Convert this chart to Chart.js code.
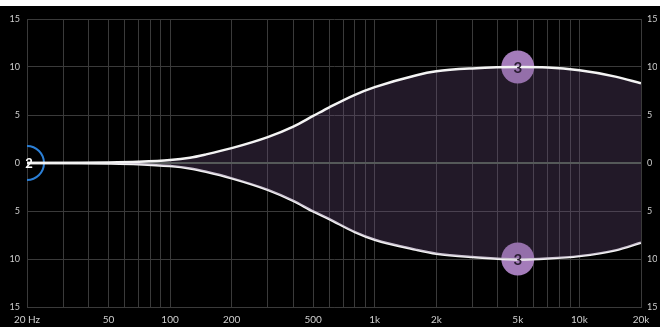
<!DOCTYPE html>
<html>
<head>
<meta charset="utf-8">
<script src="https://cdn.jsdelivr.net/npm/chart.js@4/dist/chart.umd.min.js"></script>
<style>
  html, body { margin: 0; padding: 0; background: #fff; }
  #wrap { width: 660px; height: 327px; }
</style>
</head>
<body>
<div id="wrap"><canvas id="eq" width="660" height="327"></canvas></div>
<script>
// ==============================
// Datos
// ==============================
const freqs = [20, 50, 70, 100, 125, 150, 200, 300, 400, 500, 600, 800, 1000, 1600, 2000, 3000, 5000, 7000, 10000, 15000, 20000];
const gainUpper = [0, 0.05, 0.12, 0.3, 0.55, 0.9, 1.55, 2.7, 3.8, 4.9, 5.8, 7.1, 7.9, 9.15, 9.55, 9.85, 10.0, 9.95, 9.65, 9.0, 8.3];
const gainLower = [0, -0.05, -0.12, -0.32, -0.57, -0.92, -1.6, -2.8, -3.95, -5.05, -5.85, -7.2, -8.0, -9.05, -9.45, -9.8, -10.05, -9.95, -9.7, -9.1, -8.3];

const gridFreqs = [20, 30, 40, 50, 60, 70, 80, 90, 100, 200, 300, 400, 500, 600, 700, 800, 900,
                   1000, 2000, 3000, 4000, 5000, 6000, 7000, 8000, 9000, 10000, 20000];
const freqLabels = { 20: '20 Hz', 50: '50', 100: '100', 200: '200', 500: '500', 1000: '1k', 2000: '2k', 5000: '5k', 10000: '10k', 20000: '20k' };

const bandFreq = [5000, 5000];
const bandGain = [10, -10];
const bandNames = ['3', '3'];
const nodeFreq = [20];
const nodeGain = [0];
const nodeNames = ['2'];

const FONT = 'Lato, "Open Sans", sans-serif';
const gridCol = '#3a3a3a';

const pts = (xs, ys) => xs.map((x, i) => ({ x, y: ys[i] }));

// ==============================
// Plugins
// ==============================
const fondo = {
  id: 'fondo',
  beforeDraw(chart) {
    const c = chart.ctx;
    c.save();
    c.fillStyle = '#000';
    c.fillRect(0, 6, chart.width, chart.height - 6);
    c.restore();
  }
};

const etiquetas = {
  id: 'etiquetas',
  afterDatasetsDraw(chart) {
    const c = chart.ctx;
    const xs = chart.scales.x, ys = chart.scales.y;
    c.save();
    c.textAlign = 'center';
    c.textBaseline = 'middle';
    c.font = `bold 15px ${FONT}`;
    c.fillStyle = '#2a1d33';
    bandFreq.forEach((f, i) => {
      c.fillText(bandNames[i], xs.getPixelForValue(f), ys.getPixelForValue(bandGain[i]) + 1);
    });
    c.fillStyle = '#fff';
    c.font = `bold 13px ${FONT}`;
    nodeFreq.forEach((f, i) => {
      c.fillText(nodeNames[i], xs.getPixelForValue(f) + 2, ys.getPixelForValue(nodeGain[i]) + 1);
    });
    c.restore();
  }
};

// ==============================
// Gráfica
// ==============================
new Chart(document.getElementById('eq'), {
  type: 'line',
  data: {
    datasets: [
      {
        data: pts(freqs, gainUpper),
        borderColor: '#f4f4f4', borderWidth: 2.5,
        backgroundColor: 'rgba(112, 82, 132, 0.3)',
        fill: '+1', pointRadius: 0, cubicInterpolationMode: 'monotone'
      },
      {
        data: pts(freqs, gainLower),
        borderColor: '#f4f4f4', borderWidth: 2.5,
        fill: false, pointRadius: 0, cubicInterpolationMode: 'monotone'
      },
      {
        data: pts(bandFreq, bandGain),
        showLine: false, pointRadius: 16.5, pointHoverRadius: 16.5,
        pointBackgroundColor: '#a47cba', pointBorderWidth: 0
      },
      {
        data: pts(nodeFreq, nodeGain),
        showLine: false, pointRadius: 17, pointHoverRadius: 17,
        pointBackgroundColor: 'rgba(0,0,0,0)', pointBorderColor: '#2b7fd6', pointBorderWidth: 2,
        clip: 0
      }
    ]
  },
  options: {
    responsive: false,
    animation: false,
    events: [],
    layout: { padding: { top: 16, left: 0, right: 0, bottom: 0 } },
    plugins: { legend: { display: false }, tooltip: { enabled: false } },
    scales: {
      x: {
        type: 'logarithmic', min: 20, max: 20000,
        afterBuildTicks: (s) => { s.ticks = gridFreqs.map(v => ({ value: v })); },
        afterFit: (s) => { s.height = 20; },
        grid: { color: gridCol, drawTicks: false },
        border: { color: gridCol },
        ticks: {
          autoSkip: false, maxRotation: 0, padding: 7,
          color: '#cfcfcf', font: { family: FONT, size: 10 },
          callback: (v) => freqLabels[v] || ''
        }
      },
      y: {
        position: 'left', min: -15, max: 15,
        afterFit: (s) => { s.width = 27; },
        grid: {
          drawTicks: false,
          color: (ctx) => ctx.tick && ctx.tick.value === 0 ? '#4a5c47' : gridCol,
          lineWidth: (ctx) => ctx.tick && ctx.tick.value === 0 ? 2 : 1
        },
        border: { color: gridCol },
        ticks: {
          stepSize: 5, padding: 7,
          color: '#cfcfcf', font: { family: FONT, size: 9 },
          callback: (v) => String(Math.abs(v))
        }
      },
      y2: {
        position: 'right', min: -15, max: 15,
        afterFit: (s) => { s.width = 16; },
        grid: { display: false, drawTicks: false },
        border: { color: gridCol },
        ticks: {
          stepSize: 5, padding: 6,
          color: '#cfcfcf', font: { family: FONT, size: 9 },
          callback: (v) => String(Math.abs(v))
        }
      }
    }
  },
  plugins: [fondo, etiquetas]
});
</script>
</body>
</html>
